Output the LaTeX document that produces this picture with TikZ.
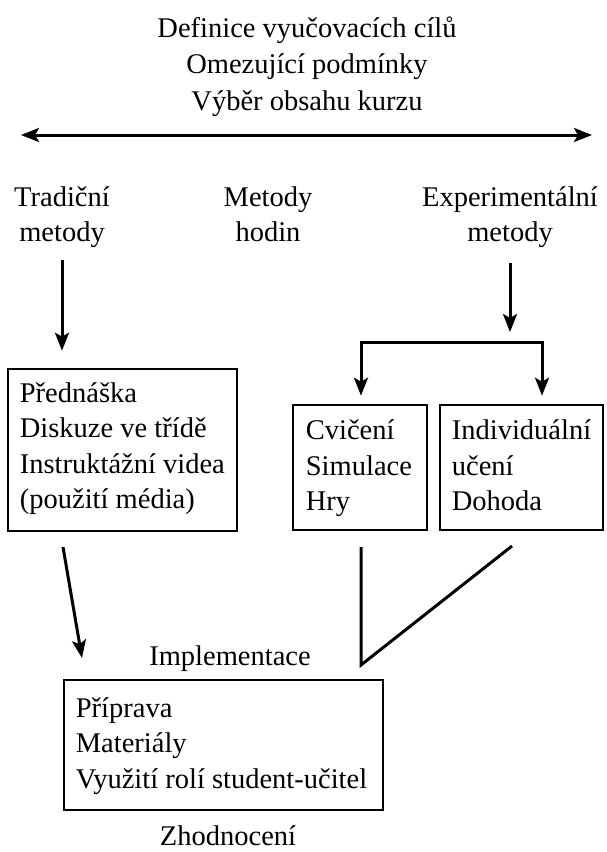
\documentclass[tikz,border=0pt]{standalone}
\usepackage{fontspec}
\setmainfont{Liberation Serif}
\usetikzlibrary{arrows.meta}
\newcommand{\topstrut}{\rule{0pt}{24pt}}
\newcommand{\botstrut}{\rule[-8pt]{0pt}{8pt}}
\tikzset{
  txt/.style={inner sep=0pt, align=center, font=\fontsize{28.5}{35.5}\selectfont},
  ttl/.style={inner sep=0pt, align=center, font=\fontsize{28.5}{36.5}\selectfont},
  boxframe/.style={draw, line width=2.6pt, inner sep=0pt},
  boxtxt/.style={inner sep=0pt, align=left, anchor=west, font=\fontsize{28.5}{35.5}\selectfont},
  arr/.style={line width=3pt, -{Stealth[length=18pt,width=14pt,inset=4pt]}},
  arrboth/.style={line width=3pt, {Stealth[length=18pt,width=14pt,inset=4pt]}-{Stealth[length=18pt,width=14pt,inset=4pt]}},
  ln/.style={line width=3pt}
}
\begin{document}
\begin{tikzpicture}[x=1pt,y=-1pt]
\useasboundingbox[fill=white] (0,0) rectangle (606,852);

% top text and double arrow
\node[ttl] (title) at (307,65.5) {\topstrut Definice vyučovacích cílů\\Omezující podmínky\\Výběr obsahu kurzu\botstrut};
\coordinate (hl) at (21,135);
\coordinate (hr) at (592,135);
\draw[arrboth] (hl) -- (hr);

% method headings
\node[txt] (trad) at (62,216) {\topstrut Tradiční\\metody\botstrut};
\node[txt] (hod) at (268,216) {\topstrut Metody\\hodin\botstrut};
\node[txt] (exp) at (510,216) {\topstrut Experimentální\\metody\botstrut};

% boxes
\node[boxframe, minimum width=229pt, minimum height=162pt] (lbox) at (122.5,450) {};
\node[boxtxt, xshift=13pt, yshift=2.75pt] (lboxt) at (lbox.west)
  {\topstrut Přednáška\\Diskuze ve třídě\\Instruktážní videa\\(použití média)\botstrut};
\node[boxframe, minimum width=134pt, minimum height=125pt] (cbox) at (360,467.5) {};
\node[boxtxt, xshift=14pt, yshift=0.5pt] (cboxt) at (cbox.west)
  {\topstrut Cvičení\\Simulace\\Hry\botstrut};
\node[boxframe, minimum width=163pt, minimum height=125pt] (ibox) at (521.5,467.5) {};
\node[boxtxt, xshift=13pt, yshift=0.5pt] (iboxt) at (ibox.west)
  {\topstrut Individuální\\učení\\Dohoda\botstrut};
\node[boxframe, minimum width=319pt, minimum height=130pt] (bbox) at (223.5,745) {};
\node[boxtxt, xshift=13pt, yshift=0.5pt] (bboxt) at (bbox.west)
  {\topstrut Příprava\\Materiály\\Využití rolí student-učitel\botstrut};

% labels
\node[txt, anchor=base] (impl) at (230,665) {Implementace};
\node[txt, anchor=base] (zhod) at (228,845) {Zhodnocení};

% connectors
\draw[arr, shorten <=10pt, shorten >=17pt] (trad.south) -- (trad.south |- lbox.north);

\coordinate (bl) at (361,342);
\coordinate (br) at (542,342);
\draw[arr, shorten <=13pt, shorten >=10pt] (exp.south) -- (exp.south |- bl);
\draw[arrboth, shorten <=8pt, shorten >=8pt, line join=miter] (bl |- cbox.north) -- (bl) -- (br) -- (br |- ibox.north);

\coordinate (d1) at (63,547);
\coordinate (d2) at (82,658);
\draw[arr] (d1) -- (d2);

\coordinate (v1) at (361,547);
\coordinate (v2) at (361,665);
\coordinate (v3) at (512,546);
\draw[ln, line join=miter] (v1) -- (v2) -- (v3);
\end{tikzpicture}
\end{document}
